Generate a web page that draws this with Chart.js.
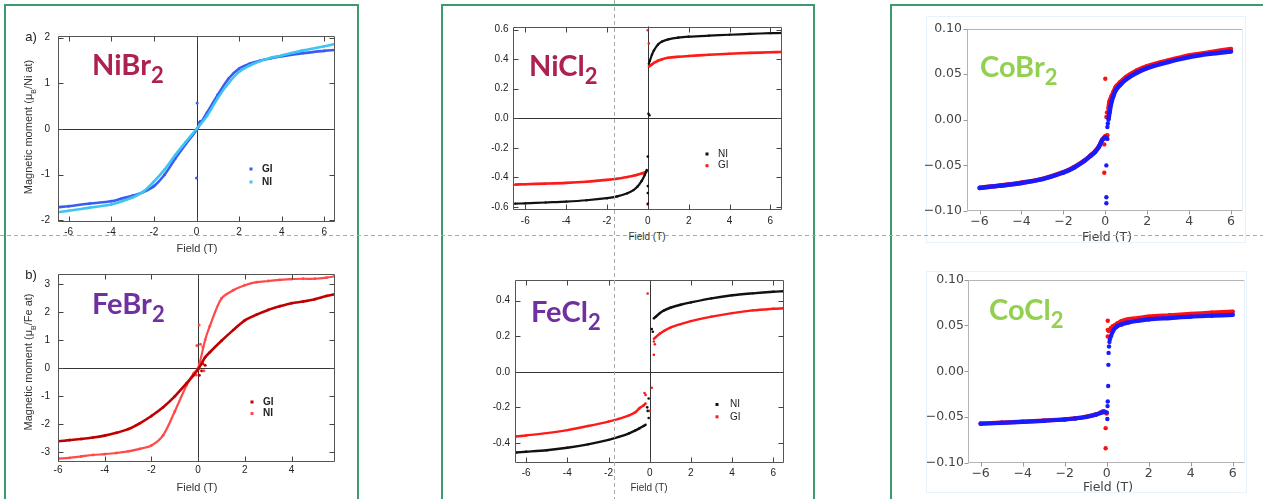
<!DOCTYPE html>
<html><head><meta charset="utf-8">
<script src="https://cdn.jsdelivr.net/npm/chart.js@4.4.1/dist/chart.umd.min.js"></script>
<style>
html,body{margin:0;padding:0;background:#fff;}
body{position:relative;width:1263px;height:499px;overflow:hidden;font-family:"Liberation Sans",Arial,sans-serif;}
.box{position:absolute;border:2px solid #3f9a6b;box-sizing:border-box;}
.fb{position:absolute;border:1px solid #e9f2f9;box-sizing:border-box;}
.cmp{position:absolute;font-family:Lato,"Open Sans",sans-serif;font-weight:700;font-size:29px;line-height:1;white-space:nowrap;}
.cmp span{font-size:22px;vertical-align:-8px;}
.t{position:absolute;white-space:nowrap;line-height:1;transform:translate(-50%,-50%);color:#333;}
.yt{transform:translate(-50%,-50%) rotate(-90deg);}
.hd{position:absolute;left:0;width:1263px;height:1px;background:repeating-linear-gradient(to right,#aaa 0 4px,transparent 4px 7px);}
.vd{position:absolute;top:0;height:499px;width:1px;background:repeating-linear-gradient(to bottom,#aaa 0 4px,transparent 4px 7px);}
#charts{position:absolute;left:0;top:0;width:1263px;height:499px;}
</style></head>
<body>
<div class="box" style="left:4px;top:4px;width:355px;height:600px"></div>
<div class="box" style="left:441px;top:4px;width:374px;height:600px"></div>
<div class="box" style="left:890px;top:4px;width:420px;height:600px"></div>
<div class="fb" style="left:926px;top:16px;width:320px;height:227px"></div>
<div class="fb" style="left:926px;top:271px;width:321px;height:222px"></div>
<div id="charts"></div>

<div class="cmp" style="left:92px;top:49px;color:#ad2151">NiBr<span>2</span></div>
<div class="cmp" style="left:92px;top:288px;color:#7030a0">FeBr<span>2</span></div>
<div class="cmp" style="left:529px;top:50px;color:#ad2151">NiCl<span>2</span></div>
<div class="cmp" style="left:531px;top:296px;color:#7030a0">FeCl<span>2</span></div>
<div class="cmp" style="left:980px;top:51px;color:#92d050">CoBr<span>2</span></div>
<div class="cmp" style="left:989px;top:294px;color:#92d050">CoCl<span>2</span></div>

<div class="t" style="left:31px;top:36px;font-size:13px;color:#222">a)</div>
<div class="t" style="left:31px;top:274px;font-size:13px;color:#222">b)</div>
<div class="t yt" style="left:30px;top:127px;font-size:11px">Magnetic moment (μ<sub style="font-size:7px">B</sub>/Ni at)</div>
<div class="t yt" style="left:30px;top:362px;font-size:11px">Magnetic moment (μ<sub style="font-size:7px">B</sub>/Fe at)</div>
<div class="t" style="left:197px;top:248px;font-size:11px">Field (T)</div>
<div class="t" style="left:197px;top:487px;font-size:11px">Field (T)</div>
<div class="t" style="left:647px;top:237px;font-size:10px">Field (T)</div>
<div class="t" style="left:649px;top:488px;font-size:10px">Field (T)</div>
<div class="t" style="left:1107px;top:237px;font-size:12.5px;font-family:'DejaVu Sans';color:#444">Field (T)</div>
<div class="t" style="left:1108px;top:487px;font-size:12.5px;font-family:'DejaVu Sans';color:#444">Field (T)</div>

<div class="hd" style="top:235px"></div>
<div class="vd" style="left:614px"></div>

<script>
// ================= DATA =================
// NiBr2 (panel a)
const nibr2Field = [-6.5,-6,-5,-4,-3.5,-3,-2.5,-2,-1.5,-1,-0.5,0,0.5,1,1.5,2,2.5,3,3.5,4,5,6,6.5];
const nibr2GI = [-1.71,-1.69,-1.63,-1.58,-1.52,-1.46,-1.38,-1.25,-1.0,-0.65,-0.33,-0.02,0.36,0.75,1.1,1.32,1.43,1.5,1.55,1.59,1.66,1.71,1.73];
const nibr2NI = [-1.82,-1.79,-1.72,-1.65,-1.58,-1.5,-1.37,-1.15,-0.89,-0.57,-0.28,0.0,0.29,0.68,1.0,1.25,1.39,1.49,1.56,1.61,1.72,1.81,1.86];
const nibr2GIOutField = [0.03,0.0,0.12,0.18];
const nibr2GIOut = [0.57,-1.07,0.14,0.17];
const nibr2XTicks = [-6,-4,-2,0,2,4,6];
const nibr2YTicks = [-2,-1,0,1,2];

// FeBr2 (panel b)
const febr2Field = [-6,-5.5,-5,-4.5,-4,-3.5,-3,-2.5,-2,-1.5,-1,-0.5,-0.2,0,0.3,0.5,1,1.5,2,2.5,3,3.5,4,4.5,5,5.5,5.85];
const febr2GI = [-2.61,-2.57,-2.53,-2.48,-2.41,-2.31,-2.18,-1.97,-1.71,-1.4,-1.01,-0.55,-0.26,-0.05,0.38,0.56,0.97,1.35,1.7,1.9,2.07,2.2,2.31,2.37,2.45,2.57,2.63];
const febr2NI = [-3.23,-3.2,-3.15,-3.1,-3.07,-3.03,-2.97,-2.88,-2.76,-2.4,-1.55,-0.62,-0.2,0.0,1.0,1.49,2.48,2.77,2.95,3.06,3.1,3.14,3.17,3.18,3.18,3.22,3.27];
const febr2NIOutField = [0.04,-0.05,0.1,0.15,0.25,-0.08,0.2];
const febr2NIOut = [1.53,0.8,0.85,0.15,-0.1,-0.25,0.75];
const febr2GIOutField = [0.05,0.2,0.3,0.15];
const febr2GIOut = [-0.26,0.15,0.1,-0.1];
const febr2XTicks = [-6,-4,-2,0,2,4];
const febr2YTicks = [-3,-2,-1,0,1,2,3];

// NiCl2
const nicl2FieldNeg = [-6.5,-6,-5,-4,-3,-2,-1.5,-1,-0.7,-0.5,-0.3,-0.15,-0.05];
const nicl2NINeg = [-0.579,-0.577,-0.571,-0.565,-0.556,-0.542,-0.53,-0.508,-0.487,-0.463,-0.425,-0.385,-0.35];
const nicl2GINeg = [-0.45,-0.447,-0.443,-0.438,-0.43,-0.418,-0.41,-0.398,-0.39,-0.383,-0.375,-0.368,-0.36];
const nicl2FieldPos = [0.05,0.1,0.2,0.3,0.5,0.7,1,1.5,2,3,4,5,6,6.5];
const nicl2NIPos = [0.37,0.39,0.43,0.46,0.5,0.52,0.535,0.547,0.553,0.56,0.566,0.572,0.577,0.578];
const nicl2GIPos = [0.35,0.355,0.365,0.375,0.39,0.4,0.41,0.417,0.422,0.43,0.437,0.443,0.447,0.449];
const nicl2NIOutField = [0.03,0.08,0.0,0.0,0.0,0.0];
const nicl2NIOut = [0.03,0.02,-0.26,-0.46,-0.507,-0.58];
const nicl2GIOutField = [0.0,0.05,0.0];
const nicl2GIOut = [0.597,0.507,-0.585];
const nicl2XTicks = [-6,-4,-2,0,2,4,6];
const nicl2YTicks = [-0.6,-0.4,-0.2,0,0.2,0.4,0.6];

// FeCl2
const fecl2FieldNeg = [-6.5,-6,-5,-4,-3,-2,-1.5,-1,-0.7,-0.5,-0.3,-0.2];
const fecl2NINeg = [-0.454,-0.45,-0.441,-0.427,-0.408,-0.383,-0.366,-0.346,-0.33,-0.318,-0.305,-0.298];
const fecl2GINeg = [-0.364,-0.358,-0.345,-0.328,-0.305,-0.28,-0.265,-0.245,-0.228,-0.205,-0.19,-0.178];
const fecl2FieldPos = [0.2,0.3,0.5,0.7,1,1.5,2,3,4,5,6,6.5];
const fecl2NIPos = [0.3,0.31,0.33,0.345,0.36,0.377,0.39,0.413,0.43,0.441,0.45,0.453];
const fecl2GIPos = [0.185,0.195,0.215,0.23,0.248,0.268,0.285,0.31,0.33,0.345,0.354,0.357];
const fecl2NIOutField = [0.1,0.15,-0.05,-0.1,-0.05,-0.12];
const fecl2NIOut = [0.24,0.225,-0.15,-0.22,-0.26,-0.2];
const fecl2GIOutField = [-0.1,0.1,-0.25,-0.2,0.0,0.2,0.2,0.25];
const fecl2GIOut = [0.44,-0.09,-0.12,-0.13,-0.22,0.095,0.17,0.155];
const fecl2XTicks = [-6,-4,-2,0,2,4,6];
const fecl2YTicks = [-0.4,-0.2,0,0.2,0.4];

// CoBr2
const cobr2FieldNeg = [-6,-5,-4,-3,-2,-1.5,-1,-0.7,-0.5,-0.3,-0.15,0,0.1];
const cobr2BlueNeg = [-0.0748,-0.0722,-0.0693,-0.0651,-0.0578,-0.0525,-0.0452,-0.0395,-0.0355,-0.0295,-0.0225,-0.0195,-0.021];
const cobr2RedNeg = [-0.0745,-0.072,-0.069,-0.0648,-0.0575,-0.052,-0.0448,-0.039,-0.035,-0.029,-0.022,-0.018,-0.017];
const cobr2FieldPos = [0.15,0.2,0.3,0.4,0.5,0.7,1,1.5,2,3,4,5,6];
const cobr2BluePos = [0.0,0.008,0.02,0.027,0.0325,0.038,0.0444,0.0516,0.0567,0.0632,0.0686,0.0722,0.0747];
const cobr2RedPos = [0.012,0.02,0.026,0.031,0.036,0.041,0.047,0.054,0.0588,0.065,0.0704,0.074,0.0776];
const cobr2BlueOutField = [0.05,0.05,0.05,0.1,0.12];
const cobr2BlueOut = [-0.05,-0.085,-0.0915,-0.008,-0.004];
const cobr2RedOutField = [0.0,-0.05,-0.05,0.05,0.08];
const cobr2RedOut = [0.045,-0.027,-0.058,0.003,0.008];
const coXTicks = [-6,-4,-2,0,2,4,6];
const coYTicks = [-0.1,-0.05,0,0.05,0.1];

// CoCl2
const cocl2FieldNeg = [-6,-5,-4,-3,-2,-1.5,-1,-0.5,-0.3,-0.15,0];
const cocl2BlueNeg = [-0.0572,-0.0562,-0.0552,-0.054,-0.0526,-0.0515,-0.0499,-0.0472,-0.0455,-0.0445,-0.0448];
const cocl2RedNeg = [-0.057,-0.056,-0.055,-0.0538,-0.0524,-0.0513,-0.0497,-0.047,-0.0452,-0.0435,-0.046];
const cocl2BlueJumpField = [0.03,0.04,0.05,0.07,0.08,0.09,0.11,0.13,0.15];
const cocl2BlueJump = [-0.052,-0.038,-0.033,-0.016,0.007,0.02,0.027,0.032,0.035];
const cocl2FieldPos = [0.2,0.3,0.5,0.7,1,1.5,2,3,4,5,6];
const cocl2BluePos = [0.038,0.044,0.049,0.051,0.053,0.055,0.0565,0.058,0.0595,0.0605,0.0615];
const cocl2RedFieldPos = [0.1,0.2,0.3,0.5,0.7,1,1.5,2,3,4,5,6];
const cocl2RedPos = [0.044,0.047,0.049,0.052,0.0545,0.0565,0.058,0.0595,0.061,0.0625,0.0638,0.065];
const cocl2RedOutField = [-0.05,-0.05,0.05,0.05,0.05];
const cocl2RedOut = [-0.062,-0.084,0.055,0.038,0.045];

// ================= HELPERS =================
const pts = (xs, ys) => xs.map((x, i) => ({x, y: ys[i]}));
function curve(label, xs, ys, color, w, r) {
  return {label, data: pts(xs, ys), showLine: true, borderColor: color, backgroundColor: color,
    borderWidth: w, pointRadius: r, pointBorderWidth: 0, pointHoverRadius: 0, tension: 0.3};
}
function dots(label, xs, ys, color, r) {
  return {label, data: pts(xs, ys), showLine: false, borderColor: color, backgroundColor: color,
    pointRadius: r, pointBorderWidth: 0, pointHoverRadius: 0};
}

const framePlugin = {
  id: 'frame',
  beforeDatasetsDraw(chart, _a, o) {
    if (!o.zero) return;
    const {ctx, chartArea: a, scales: {x, y}} = chart;
    ctx.save();
    ctx.strokeStyle = o.zeroColor; ctx.lineWidth = 1;
    const x0 = Math.round(x.getPixelForValue(0)) + 0.5;
    const y0 = Math.round(y.getPixelForValue(0)) + 0.5;
    ctx.beginPath();
    ctx.moveTo(x0, a.top); ctx.lineTo(x0, a.bottom);
    ctx.moveTo(a.left, y0); ctx.lineTo(a.right, y0);
    ctx.stroke();
    ctx.restore();
  },
  afterDatasetsDraw(chart, _a, o) {
    const {ctx, chartArea: a, scales: {x, y}} = chart;
    ctx.save();
    ctx.lineWidth = 1;
    const L = Math.round(a.left) + 0.5, R = Math.round(a.right) - 0.5;
    const T = Math.round(a.top) + 0.5, B = Math.round(a.bottom) - 0.5;
    ctx.strokeStyle = o.frameColor;
    ctx.beginPath();
    ctx.moveTo(L, T); ctx.lineTo(L, B); ctx.lineTo(R, B);
    ctx.moveTo(L, T); ctx.lineTo(R, T);
    ctx.stroke();
    ctx.strokeStyle = o.rightColor || o.frameColor;
    ctx.beginPath(); ctx.moveTo(R, T); ctx.lineTo(R, B); ctx.stroke();
    ctx.strokeStyle = o.tickColor;
    ctx.beginPath();
    const n = o.tickLen;
    x.ticks.forEach(t => {
      const p = Math.round(x.getPixelForValue(t.value)) + 0.5;
      if (o.inward) { ctx.moveTo(p, B); ctx.lineTo(p, B - n); ctx.moveTo(p, T); ctx.lineTo(p, T + n); }
      else { ctx.moveTo(p, B); ctx.lineTo(p, B + n); }
    });
    y.ticks.forEach(t => {
      const p = Math.round(y.getPixelForValue(t.value)) + 0.5;
      if (o.inward) { ctx.moveTo(L, p); ctx.lineTo(L + n, p); ctx.moveTo(R, p); ctx.lineTo(R - n, p); }
      else { ctx.moveTo(L, p); ctx.lineTo(L - n, p); }
    });
    ctx.stroke();
    if (o.legend) {
      const lg = o.legend;
      lg.items.forEach((lab, i) => {
        const ds = chart.data.datasets.find(d => d.label === lab);
        const yy = lg.y + i * lg.dy;
        ctx.fillStyle = ds.borderColor;
        ctx.fillRect(lg.x - 1.5, yy - 1.5, 3, 3);
        ctx.fillStyle = '#222';
        ctx.font = (lg.bold ? 'bold ' : '') + '10px "Liberation Sans", Arial';
        ctx.textBaseline = 'middle'; ctx.textAlign = 'left';
        ctx.fillText(lab, lg.tx, yy);
      });
    }
    ctx.restore();
  }
};

function fmt(v, dec, mpl) {
  let s = dec ? v.toFixed(dec) : String(Math.round(v));
  if (s === '-0' || s === '-0.0' || s === '-0.00') s = s.slice(1);
  return mpl ? s.replace('-', '\u2212') : s;
}

function makePanel(o) {
  const plotW = o.R - o.L, plotH = o.B - o.T;
  const w = Math.round(o.yW + plotW + o.padR), h = Math.round(o.padT + plotH + o.xH);
  const cl = o.L - o.yW, ct = o.T - o.padT;
  const cv = document.createElement('canvas');
  cv.width = w; cv.height = h;
  cv.style.cssText = `position:absolute;left:${cl}px;top:${ct}px;width:${w}px;height:${h}px;`;
  document.getElementById('charts').appendChild(cv);
  const mpl = o.style === 'mpl';
  const font = mpl ? {family: '"DejaVu Sans"', size: 12.5} : {family: '"Liberation Sans", Arial', size: 10};
  const tc = mpl ? '#444' : '#222';
  let legend = null;
  if (o.legend) legend = Object.assign({}, o.legend, {x: o.legend.x - cl, tx: o.legend.tx - cl, y: o.legend.y - ct});
  new Chart(cv, {
    type: 'scatter',
    data: {datasets: o.datasets},
    options: {
      responsive: false, animation: false, devicePixelRatio: 1, events: [],
      layout: {padding: {top: o.padT, right: o.padR, left: 0, bottom: 0}},
      plugins: {
        legend: {display: false}, tooltip: {enabled: false},
        frame: {inward: !mpl, tickLen: mpl ? 4 : 5, frameColor: mpl ? '#b5b5b5' : '#555',
                rightColor: mpl ? '#e4eef6' : null, tickColor: mpl ? '#999' : '#444',
                zero: !mpl, zeroColor: '#333', legend}
      },
      scales: {
        x: {type: 'linear', position: 'bottom', min: o.xMin, max: o.xMax,
            afterBuildTicks: s => { s.ticks = o.xTicks.map(v => ({value: v})); },
            afterFit: s => { s.height = o.xH; },
            grid: {display: false, drawTicks: false}, border: {display: false},
            ticks: {autoSkip: false, maxRotation: 0, minRotation: 0, padding: o.xPad, color: tc, font,
                    callback: v => fmt(v, 0, mpl)}},
        y: {type: 'linear', position: 'left', min: o.yMin, max: o.yMax,
            afterBuildTicks: s => { s.ticks = o.yTicks.map(v => ({value: v})); },
            afterFit: s => { s.width = o.yW; },
            grid: {display: false, drawTicks: false}, border: {display: false},
            ticks: {autoSkip: false, padding: o.yPad, color: tc, font,
                    callback: v => fmt(v, o.yDec, mpl)}}
      }
    },
    plugins: [framePlugin]
  });
}

// ================= PANELS =================
const cGIb = '#3b5cf2', cNIb = '#3ec4f3';
makePanel({style: 'igor', L: 58, R: 335, T: 32, B: 222, yW: 30, xH: 20, padT: 10, padR: 14, xPad: 4, yPad: 8,
  xMin: -6.5, xMax: 6.5, yMin: -2.035, yMax: 2.035, xTicks: nibr2XTicks, yTicks: nibr2YTicks, yDec: 0,
  legend: {items: ['GI', 'NI'], x: 251, tx: 262, y: 169, dy: 13, bold: true},
  datasets: [
    curve('NI', nibr2Field, nibr2NI, cNIb, 2.6, 1.4),
    curve('GI', nibr2Field, nibr2GI, cGIb, 2.6, 1.4),
    dots('GI out', nibr2GIOutField, nibr2GIOut, cGIb, 1.5)
  ]});

const cGIr = '#c00000', cNIr = '#ff4a4a';
makePanel({style: 'igor', L: 58, R: 335, T: 270, B: 462, yW: 30, xH: 20, padT: 10, padR: 14, xPad: 2, yPad: 8,
  xMin: -6, xMax: 5.86, yMin: -3.35, yMax: 3.35, xTicks: febr2XTicks, yTicks: febr2YTicks, yDec: 0,
  legend: {items: ['GI', 'NI'], x: 252, tx: 263, y: 402, dy: 11.5, bold: true},
  datasets: [
    curve('GI', febr2Field, febr2GI, cGIr, 2.6, 1.4),
    curve('NI', febr2Field, febr2NI, cNIr, 2.2, 1.4),
    dots('NI out', febr2NIOutField, febr2NIOut, cNIr, 1.5),
    dots('GI out', febr2GIOutField, febr2GIOut, cGIr, 1.5)
  ]});

const cBlk = '#111', cRed = '#ff1a1a';
makePanel({style: 'igor', L: 513, R: 782, T: 26, B: 210, yW: 40, xH: 20, padT: 10, padR: 14, xPad: 5, yPad: 4.5,
  xMin: -6.6, xMax: 6.57, yMin: -0.622, yMax: 0.622, xTicks: nicl2XTicks, yTicks: nicl2YTicks, yDec: 1,
  legend: {items: ['NI', 'GI'], x: 707, tx: 718, y: 154, dy: 11.7, bold: false},
  datasets: [
    curve('NI', nicl2FieldNeg, nicl2NINeg, cBlk, 2.2, 1.2),
    curve('NI+', nicl2FieldPos, nicl2NIPos, cBlk, 2.2, 1.2),
    curve('GI', nicl2FieldNeg, nicl2GINeg, cRed, 2.6, 1.2),
    curve('GI+', nicl2FieldPos, nicl2GIPos, cRed, 2.6, 1.2),
    dots('NI out', nicl2NIOutField, nicl2NIOut, cBlk, 1.3),
    dots('GI out', nicl2GIOutField, nicl2GIOut, cRed, 1.3)
  ]});

makePanel({style: 'igor', L: 515, R: 784, T: 279, B: 463, yW: 40, xH: 20, padT: 10, padR: 14, xPad: 4.5, yPad: 5,
  xMin: -6.54, xMax: 6.52, yMin: -0.513, yMax: 0.516, xTicks: fecl2XTicks, yTicks: fecl2YTicks, yDec: 1,
  legend: {items: ['NI', 'GI'], x: 717, tx: 730, y: 404.5, dy: 12.3, bold: false},
  datasets: [
    curve('NI', fecl2FieldNeg, fecl2NINeg, cBlk, 2.4, 1.2),
    curve('NI+', fecl2FieldPos, fecl2NIPos, cBlk, 2.4, 1.2),
    curve('GI', fecl2FieldNeg, fecl2GINeg, cRed, 2.4, 1.2),
    curve('GI+', fecl2FieldPos, fecl2GIPos, cRed, 2.4, 1.2),
    dots('NI out', fecl2NIOutField, fecl2NIOut, cBlk, 1.3),
    dots('GI out', fecl2GIOutField, fecl2GIOut, cRed, 1.3)
  ]});

const cB = '#1a1aff', cR = '#ff1010';
makePanel({style: 'mpl', L: 967, R: 1243, T: 26, B: 211, yW: 50, xH: 24, padT: 10, padR: 14, xPad: 3, yPad: 5,
  xMin: -6.6, xMax: 6.57, yMin: -0.1, yMax: 0.1, xTicks: coXTicks, yTicks: coYTicks, yDec: 2,
  datasets: [
    curve('B-', cobr2FieldNeg, cobr2BlueNeg, cB, 4.5, 2.2),
    curve('B+', cobr2FieldPos, cobr2BluePos, cB, 4.5, 2.2),
    dots('Bo', cobr2BlueOutField, cobr2BlueOut, cB, 2.2),
    curve('R-', cobr2FieldNeg, cobr2RedNeg, cR, 4.5, 2.2),
    curve('R+', cobr2FieldPos, cobr2RedPos, cR, 4.5, 2.2),
    dots('Ro', cobr2RedOutField, cobr2RedOut, cR, 2.2)
  ]});

makePanel({style: 'mpl', L: 968, R: 1245, T: 278, B: 463, yW: 50, xH: 24, padT: 10, padR: 14, xPad: 3, yPad: 4,
  xMin: -6.6, xMax: 6.58, yMin: -0.1, yMax: 0.1, xTicks: coXTicks, yTicks: coYTicks, yDec: 2,
  datasets: [
    curve('B-', cocl2FieldNeg, cocl2BlueNeg, cB, 4.2, 2.2),
    dots('Bj', cocl2BlueJumpField, cocl2BlueJump, cB, 2.2),
    curve('B+', cocl2FieldPos, cocl2BluePos, cB, 4.2, 2.2),
    curve('R-', cocl2FieldNeg, cocl2RedNeg, cR, 4.2, 2.2),
    curve('R+', cocl2RedFieldPos, cocl2RedPos, cR, 4.2, 2.2),
    dots('Ro', cocl2RedOutField, cocl2RedOut, cR, 2.2)
  ]});
</script>
</body></html>
